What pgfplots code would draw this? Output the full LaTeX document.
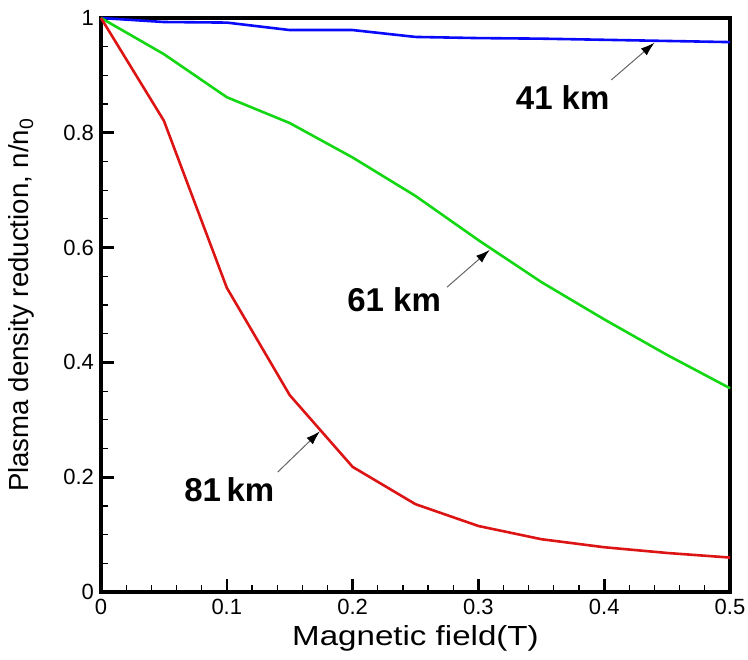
\documentclass[border=0pt]{standalone}
\usepackage{fontspec}
\setmainfont{Liberation Sans}
\usepackage{pgfplots}
\pgfplotsset{compat=1.18}
\usetikzlibrary{arrows.meta}

\definecolor{cblue}{RGB}{10,10,250}
\definecolor{cgreen}{RGB}{20,215,20}
\definecolor{cred}{RGB}{220,20,20}

\begin{document}
\begin{tikzpicture}
\begin{axis}[
  at={(0,0)}, anchor=south west,
  scale only axis, width=314.5pt, height=287pt,
  xmin=0, xmax=0.5, ymin=0, ymax=1,
  xtick={0,0.1,...,0.5}, ytick={0,0.2,...,1},
  minor x tick num=4, minor y tick num=3,
  tick pos=left, tick align=inside,
  major tick length=6.5pt, minor tick length=3.5pt,
  major tick style={black, line width=1.3pt},
  minor tick style={black, line width=0.6pt},
  axis line style={line width=1.8pt},
  /pgf/number format/assume math mode=true,
  /pgf/number format/fixed,
  ticklabel style={font=\fontsize{11}{13}\selectfont},
  xlabel={Magnetic field(T)},
  ylabel={Plasma density reduction, n/n\textsubscript{0}},
  label style={font=\fontsize{13.8}{16}\selectfont},
  xlabel style={at={(axis description cs:0.5,-0.08)}, anchor=center, xscale=1.2},
  ylabel style={at={(axis description cs:-0.126,0.5)}, anchor=center},
  clip=false,
]
% 41 km
\addplot[cblue, line width=1.3pt] coordinates {
(0,1.0)(0.05,0.993)(0.1,0.992)(0.15,0.979)(0.2,0.979)(0.25,0.967)
(0.3,0.965)(0.35,0.964)(0.4,0.962)(0.45,0.960)(0.5,0.958)};
% 61 km
\addplot[cgreen, line width=1.3pt] coordinates {
(0,1.0)(0.05,0.937)(0.1,0.862)(0.15,0.817)(0.2,0.757)(0.25,0.690)
(0.3,0.613)(0.35,0.540)(0.4,0.475)(0.45,0.413)(0.5,0.355)};
% 81 km
\addplot[cred, line width=1.3pt] coordinates {
(0,1.0)(0.05,0.821)(0.1,0.530)(0.15,0.343)(0.2,0.218)(0.25,0.153)
(0.3,0.115)(0.35,0.092)(0.4,0.078)(0.45,0.068)(0.5,0.060)};

\draw[black!60, line width=0.5pt, -{Latex[length=7pt,width=4.5pt,black]}]
  (axis cs:0.4056,0.892) -- (axis cs:0.440,0.957);
\node[font=\fontsize{16.5}{18}\bfseries\selectfont] at (axis cs:0.367,0.862) {41 km};
\draw[black!60, line width=0.5pt, -{Latex[length=7pt,width=4.5pt,black]}]
  (axis cs:0.275,0.531) -- (axis cs:0.309,0.596);
\node[font=\fontsize{16.5}{18}\bfseries\selectfont] at (axis cs:0.233,0.509) {61 km};
\draw[black!60, line width=0.5pt, -{Latex[length=7pt,width=4.5pt,black]}]
  (axis cs:0.1405,0.209) -- (axis cs:0.174,0.280);
\node[font=\fontsize{16.5}{18}\bfseries\selectfont] at (axis cs:0.102,0.178) {81\,km};
\end{axis}
\pgfresetboundingbox
\path (-50.5pt,-33.5pt) rectangle (323.5pt,296pt);
\end{tikzpicture}
\end{document}
